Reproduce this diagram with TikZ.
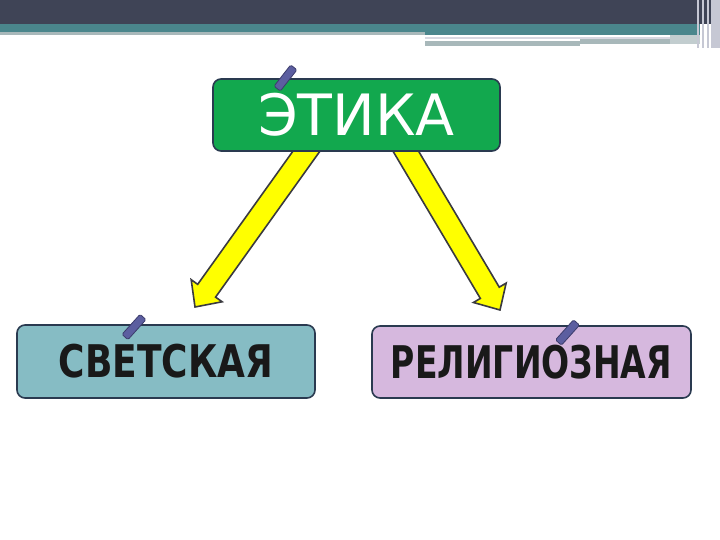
\documentclass[tikz,border=0pt]{standalone}
\usepackage{fontspec}
\usepackage{xcolor}
\usetikzlibrary{calc}
\usetikzlibrary{backgrounds}
\newfontfamily\titlefont{DejaVu Sans}
\newfontfamily\svetfont[FakeStretch=0.80]{DejaVu Sans}
\newfontfamily\religfont[FakeStretch=0.735]{DejaVu Sans}
\definecolor{headdark}{HTML}{3F4456}
\definecolor{headteal}{HTML}{4A868C}
\definecolor{headgray}{HTML}{A8B8BA}
\definecolor{headlight}{HTML}{C6C8D4}
\definecolor{boxline}{HTML}{2A3A50}
\definecolor{etikagreen}{HTML}{12A84E}
\definecolor{svetteal}{HTML}{86BCC4}
\definecolor{religlilac}{HTML}{D6B8DE}
\definecolor{arrowyellow}{HTML}{FFFF00}
\definecolor{arrowline}{HTML}{3A3A40}
\definecolor{tabfill}{HTML}{5C5EA0}
\definecolor{tabline}{HTML}{3C3C6C}
\tikzset{
    box/.style={draw=boxline, line width=1.6pt, rounded corners=8pt, inner sep=0pt},
    tab/.style={draw=tabline, fill=tabfill, line width=0.8pt, rounded corners=1.5pt,
        minimum width=27pt, minimum height=8pt, inner sep=0pt},
    arrowbody/.style={fill=arrowyellow, draw=arrowline, line width=1.6pt, line join=miter}
}
\begin{document}
\begin{tikzpicture}[x=1pt,y=1pt,yscale=-1,xscale=1]
            \useasboundingbox (0,0) rectangle (720,540);
            %header
            \fill [headdark] (0,0) rectangle (720,24);
            \fill [headteal] (0,24) rectangle (700,32);
            \fill [headgray] (0,32) rectangle (425,35);
            \fill [headteal] (425,32) rectangle (700,35.5);
            \fill [headlight!70!white] (425,37) rectangle (670,39);
            \fill [headgray] (425,41) rectangle (580,46);
            \fill [headgray] (580,39) rectangle (670,44);
            \fill [headgray!70!white] (670,35) rectangle (700,44);
            \foreach \x in {697, 702, 707} {
                \fill [headlight] (\x,0) rectangle (\x + 2,48);
            }
            \fill [headlight] (711,0) rectangle (720,48);
            %
            %boxes
            \node [box, fill=etikagreen, minimum width=287pt, minimum height=72pt,
                font=\titlefont\fontsize{57}{57}\selectfont, text=white] (etika) at (356.5,115) {ЭТИКА};
            \node [box, fill=svetteal, minimum width=298pt, minimum height=73pt,
                font=\svetfont\bfseries\fontsize{45}{45}\selectfont, text=black!90] (svet) at (166,361.5) {СВЕТСКАЯ};
            \node [box, fill=religlilac, minimum width=319pt, minimum height=72pt,
                font=\religfont\bfseries\fontsize{45}{45}\selectfont, text=black!90] (relig) at (531.5,362) {РЕЛИГИОЗНАЯ};
            %
            %arrows
            \coordinate (startL) at ($(etika.south west)!0.325!(etika.south east)$);
            \coordinate (startR) at ($(etika.south west)!0.672!(etika.south east)$);
            \coordinate (tipL) at (195,307);
            \coordinate (tipR) at (500,310);
            \begin{scope}[on background layer]
                \foreach \s/\t in {startL/tipL, startR/tipR} {
                    \coordinate (from) at ($(\s)!-20pt!(\t)$);
                    \coordinate (hb) at ($(\t)!20pt!(\s)$);
                    \draw [arrowbody] ($(from)!11pt!90:(\t)$) -- ($(hb)!11pt!90:(\t)$) -- ($(hb)!19pt!90:(\t)$)
                        -- (\t) -- ($(hb)!19pt!-90:(\t)$) -- ($(hb)!11pt!-90:(\t)$) -- ($(from)!11pt!-90:(\t)$) -- cycle;
                }
            \end{scope}
            %
            %tabs
            \node [tab, rotate=52] (tabE) at (285.5,78) {};
            \node [tab, rotate=48] (tabS) at (134,327) {};
            \node [tab, rotate=48] (tabR) at (567.5,332.5) {};
            %
        \end{tikzpicture}
\end{document}
